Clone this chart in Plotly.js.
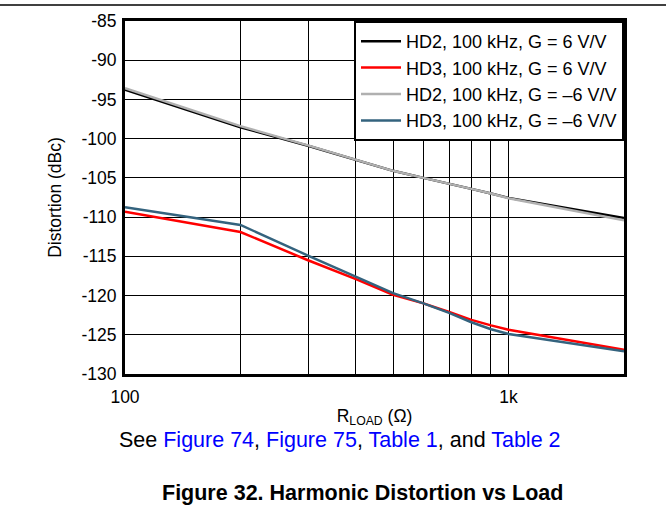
<!DOCTYPE html>
<html>
<head>
<meta charset="utf-8">
<script src="https://cdn.plot.ly/plotly-3.0.1.min.js"></script>
<style>html,body{margin:0;padding:0;background:#fff;}#chart{width:666px;height:508px;}</style>
</head>
<body>
<div id="chart"></div>
<script>
// Data
const rload = [100, 200, 300, 400, 500, 600, 700, 800, 900, 1000, 2000];
const hd2Pos = [-93.75, -98.55, -100.9, -102.7, -104.1, -105.0, -105.7, -106.4, -107.0, -107.55, -110.1];
const hd3Pos = [-109.3, -111.9, -115.5, -117.9, -119.9, -121.0, -122.1, -123.1, -123.8, -124.35, -126.9];
const hd2Neg = [-93.55, -98.4, -100.85, -102.7, -104.1, -105.0, -105.7, -106.4, -107.0, -107.6, -110.4];
const hd3Neg = [-108.75, -111.0, -114.9, -117.6, -119.7, -121.0, -122.2, -123.4, -124.3, -124.9, -127.1];
const seriesNames = ['HD2, 100 kHz, G = 6 V/V', 'HD3, 100 kHz, G = 6 V/V', 'HD2, 100 kHz, G = \u20136 V/V', 'HD3, 100 kHz, G = \u20136 V/V'];
const seriesColors = ['#000000', '#ff0000', '#b0b0b0', '#34637e'];
const xTickVals = [100, 200, 300, 400, 500, 600, 700, 800, 900, 1000, 2000];
const xTickText = ['100', '', '', '', '', '', '', '', '', '1k', ''];
const yTickVals = [-130, -125, -120, -115, -110, -105, -100, -95, -90, -85];

const ys = [hd2Pos, hd3Pos, hd2Neg, hd3Neg];
const traces = ys.map((y, i) => ({
  x: rload, y: y, type: 'scatter', mode: 'lines', name: seriesNames[i],
  line: {color: seriesColors[i], width: 2.5}
}));

const font = 'Liberation Sans, Arial, Helvetica, sans-serif';
const layout = {
  width: 666, height: 508,
  margin: {l: 125, r: 42, t: 21, b: 134},
  paper_bgcolor: '#fff', plot_bgcolor: '#fff',
  font: {family: font, size: 17.5, color: '#000'},
  showlegend: true,
  legend: {
    x: 1, y: 1, xanchor: 'right', yanchor: 'top',
    bgcolor: '#fff', bordercolor: '#000', borderwidth: 2,
    font: {family: font, size: 18, color: '#000'},
    tracegroupgap: 0, itemwidth: 40
  },
  xaxis: {
    type: 'log', range: [2, Math.log10(2000)],
    tickvals: xTickVals, ticktext: xTickText,
    showgrid: true, gridcolor: '#000', gridwidth: 1,
    showline: true, linecolor: '#000', linewidth: 3, mirror: true,
    ticks: '', zeroline: false, ticklabelstandoff: 5,
    tickfont: {family: font, size: 17.5},
    title: {text: 'R<sub>LOAD</sub> (\u03A9)', font: {family: font, size: 17.5}, standoff: 4}
  },
  yaxis: {
    range: [-130, -85],
    tickvals: yTickVals, ticktext: yTickVals.map(v => String(v)),
    showgrid: true, gridcolor: '#000', gridwidth: 1,
    showline: true, linecolor: '#000', linewidth: 3, mirror: true,
    ticks: '', zeroline: false, ticklabelstandoff: 2,
    tickfont: {family: font, size: 17.5},
    title: {text: 'Distortion (dBc)', font: {family: font, size: 17.5}, standoff: 16}
  },
  shapes: [
    {type: 'line', xref: 'paper', yref: 'paper', x0: -2, x1: 2, y0: (374 - 5) / 353, y1: (374 - 5) / 353, line: {color: '#000', width: 1.5}}
  ],
  annotations: [
    {xref: 'paper', yref: 'paper', x: (339.5 - 125) / 499, y: -(440 - 374) / 353, xanchor: 'center', yanchor: 'middle', showarrow: false,
     text: 'See <span style="color:#0000ff">Figure 74</span>, <span style="color:#0000ff">Figure 75</span>, <span style="color:#0000ff">Table 1</span>, and <span style="color:#0000ff">Table 2</span>',
     font: {family: font, size: 21.5, color: '#000'}},
    {xref: 'paper', yref: 'paper', x: (362.5 - 125) / 499, y: -(493 - 374) / 353, xanchor: 'center', yanchor: 'middle', showarrow: false,
     text: '<b>Figure 32. Harmonic Distortion vs Load</b>',
     font: {family: font, size: 21.5, color: '#000'}}
  ]
};
Plotly.newPlot('chart', traces, layout, {displayModeBar: false, staticPlot: true});
</script>
</body>
</html>
